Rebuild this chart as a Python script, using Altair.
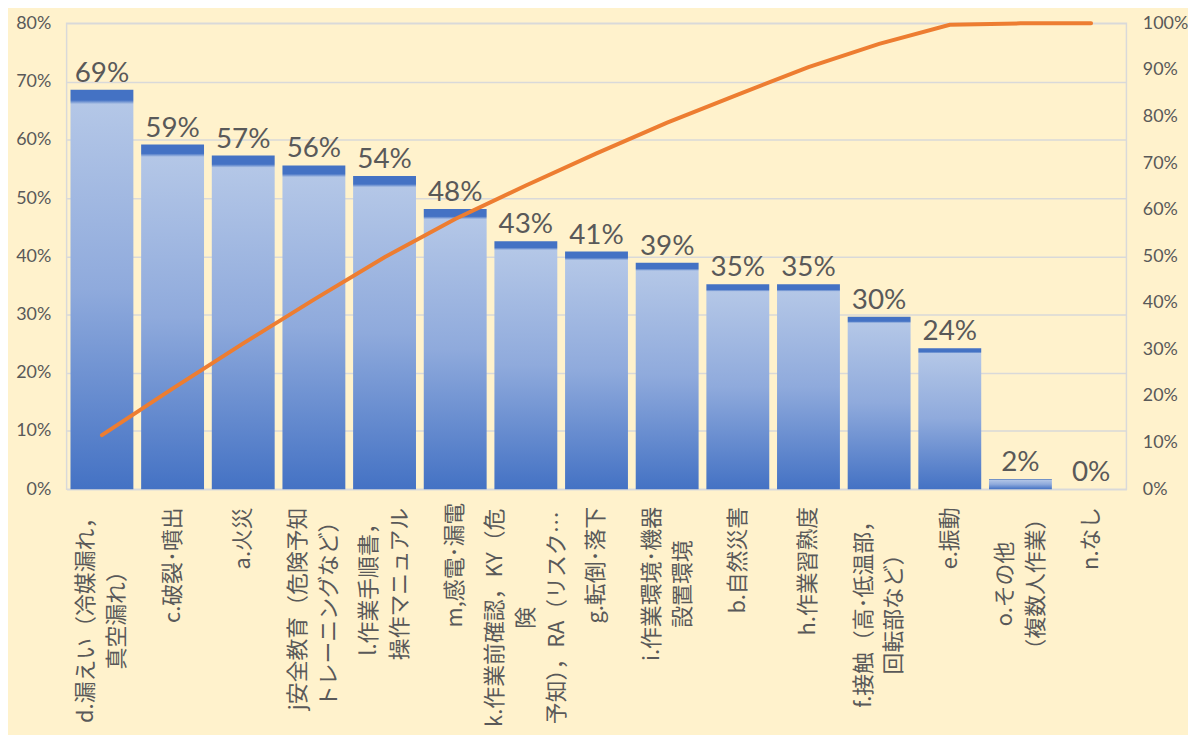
import json
import altair as alt
import pandas as pd

# ---- data ----
codes = ["d", "c", "a", "j", "l", "m", "k", "g", "i", "b", "h", "f", "e", "o", "n"]
label_lines = [
    ["d.漏えい（冷媒漏れ，", "真空漏れ）"],
    ["c.破裂･噴出"],
    ["a.火災"],
    ["j安全教育（危険予知", "トレーニングなど）"],
    ["l.作業手順書，", "操作マニュアル"],
    ["m,感電･漏電"],
    ["k.作業前確認，KY（危", "険", "予知），RA（リスク…"],
    ["g.転倒･落下"],
    ["i.作業環境･機器", "設置環境"],
    ["b.自然災害"],
    ["h.作業習熟度"],
    ["f.接触（高･低温部，", "回転部など）"],
    ["e.振動"],
    ["o.その他", "（複数人作業）"],
    ["n.なし"],
]
share = [0.686, 0.592, 0.573, 0.556, 0.538, 0.481, 0.426, 0.408, 0.389,
         0.352, 0.352, 0.296, 0.242, 0.017, 0.0]
cumulative = [0.116, 0.216, 0.313, 0.407, 0.498, 0.580, 0.652, 0.721, 0.787,
              0.847, 0.906, 0.956, 0.997, 1.0, 1.0]
left_ticks = [0, 0.1, 0.2, 0.3, 0.4, 0.5, 0.6, 0.7, 0.8]
right_ticks = [0, 0.1, 0.2, 0.3, 0.4, 0.5, 0.6, 0.7, 0.8, 0.9, 1.0]

df = pd.DataFrame({"code": codes, "share": share, "cumulative": cumulative})

# ---- label layout helpers (centre multi-line labels, anchored near the axis) ----
LABEL_SIZE = 22
LINE_H = 31


def em(ch):
    if ord(ch) < 128:
        return {".": 0.25, ",": 0.25, "i": 0.25, "l": 0.25, "j": 0.25}.get(ch, 0.56)
    if ch == "･":
        return 0.5
    return 1.0


def line_px(s):
    return sum(em(c) for c in s) * LABEL_SIZE


pad_map = {c: round(18 + 0.5 * max(line_px(s) for s in ls)) for c, ls in zip(codes, label_lines)}
off_map = {c: -(len(ls) - 1) * LINE_H / 2 for c, ls in zip(codes, label_lines)}
lines_map = dict(zip(codes, label_lines))

label_expr = json.dumps(lines_map, ensure_ascii=False) + "[datum.value]"
pad_expr = json.dumps(pad_map) + "[datum.value]"
off_expr = json.dumps(off_map) + "[datum.value]"

BLUE = "#4472C4"
grad = alt.LinearGradient(
    gradient="linear",
    x1=0, y1=0, x2=0, y2=1,
    stops=[
        alt.GradientStop(color=BLUE, offset=0),
        alt.GradientStop(color=BLUE, offset=0.026),
        alt.GradientStop(color="#B4C7E7", offset=0.036),
        alt.GradientStop(color="#8FAADC", offset=0.5),
        alt.GradientStop(color=BLUE, offset=1),
    ],
)

x_enc = alt.X(
    "code:N",
    sort=codes,
    title=None,
    scale=alt.Scale(paddingInner=0.11, paddingOuter=0.055),
    axis=alt.Axis(
        labelExpr=label_expr,
        labelAngle=270,
        labelAlign="center",
        labelBaseline="middle",
        labelFont="Noto Sans CJK JP",
        labelFontSize=LABEL_SIZE,
        labelLineHeight=LINE_H,
        labelColor="#595959",
        labelLimit=1000,
        labelPadding=alt.ExprRef(pad_expr),
        labelOffset=alt.ExprRef(off_expr),
        ticks=False,
        domain=False,
    ),
)

y_left = alt.Y(
    "share:Q",
    title=None,
    scale=alt.Scale(domain=[0, 0.8]),
    axis=alt.Axis(
        values=left_ticks,
        format=".0%",
        labelFont="Lato",
        labelFontSize=18,
        labelColor="#595959",
        labelPadding=16,
        ticks=False,
        domain=False,
        grid=True,
        gridColor="#D9D9D9",
        gridWidth=1.5,
    ),
)

bars = alt.Chart(df).mark_bar(color=grad).encode(x=x_enc, y=y_left)

texts = alt.Chart(df).mark_text(
    baseline="alphabetic", dy=-8, font="Lato", fontSize=28, color="#595959"
).encode(x=alt.X("code:N", sort=codes), y=alt.Y("share:Q"), text=alt.Text("share:Q", format=".0%"))

line = alt.Chart(df).mark_line(color="#ED7D31", strokeWidth=4, strokeCap="round").encode(
    x=alt.X("code:N", sort=codes),
    y=alt.Y(
        "cumulative:Q",
        title=None,
        scale=alt.Scale(domain=[0, 1]),
        axis=alt.Axis(
            orient="right",
            values=right_ticks,
            format=".0%",
            labelFont="Lato",
            labelFontSize=18,
            labelColor="#595959",
            labelPadding=16,
            ticks=False,
            domain=False,
            grid=False,
        ),
    ),
)

chart = (
    alt.layer(alt.layer(bars, texts), line)
    .resolve_scale(y="independent")
    .properties(
        width=1067,
        height=469,
        background="#FFF2CC",
        padding={"left": 7, "top": 4, "right": 0, "bottom": 5},
    )
    .configure_view(stroke="#D9D9D9", strokeWidth=1.5)
)

chart.save("out.html", embed_options={"renderer": "svg", "actions": False})
